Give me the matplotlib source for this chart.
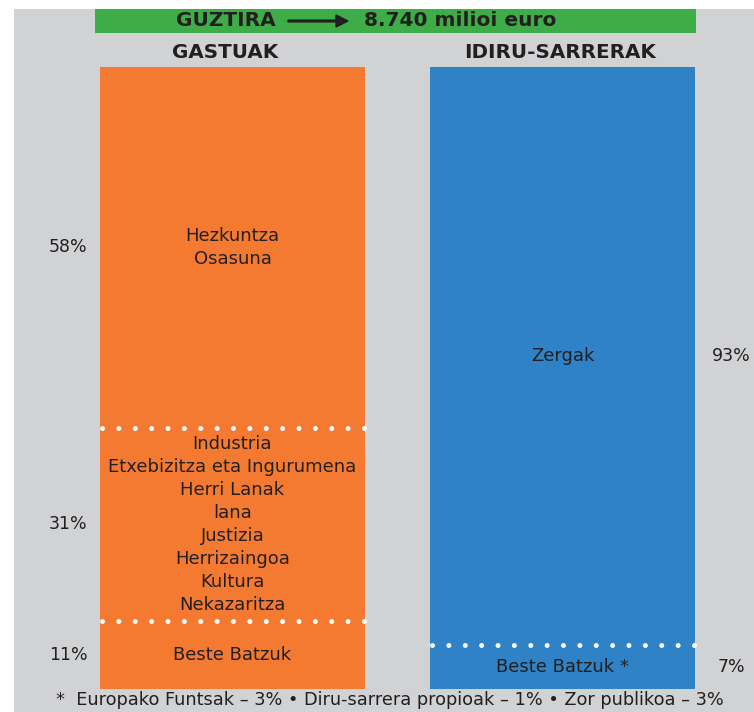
import matplotlib.pyplot as plt
import matplotlib.patches as patches

# Data
columns = ["GASTUAK", "IDIRU-SARRERAK"]
gastuak_pct = [11, 31, 58]
gastuak_labels = [
    "Beste Batzuk",
    "Industria\nEtxebizitza eta Ingurumena\nHerri Lanak\nlana\nJustizia\nHerrizaingoa\nKultura\nNekazaritza",
    "Hezkuntza\nOsasuna",
]
sarrerak_pct = [7, 93]
sarrerak_labels = ["Beste Batzuk *", "Zergak"]
total_label = ["GUZTIRA", "8.740 milioi euro"]
footnote = "*  Europako Funtsak – 3% • Diru-sarrera propioak – 1% • Zor publikoa – 3%"

ORANGE = "#f47a32"
BLUE = "#2f82c6"
GREEN = "#3ead48"
GRAY = "#d1d2d4"
TEXT = "#231f20"

W, H = 754, 712
fig = plt.figure(figsize=(W / 100, H / 100), dpi=100, facecolor="white")
plt.rcParams["font.family"] = ["DejaVu Sans"]
plt.rcParams["lines.scale_dashes"] = False

# gray background panel
fig.patches.append(patches.Rectangle((14 / W, 0), 1, 1 - 9 / H, transform=fig.transFigure,
                                     facecolor=GRAY, edgecolor="none", zorder=-5))

# main axes: x in pixels, y in percent (0 at bar bottom, 100 at bar top)
ax = fig.add_axes([0, 0, 1, 1])
ax.set_zorder(2)
ax.set_facecolor("none")
px = 622 / 100.0
ax.set_xlim(0, W)
ax.set_ylim(-(H - 689) / px, 689 / px)
ax.axis("off")

x_g, x_s, bw = 232.5, 562.5, 265

def stack(x, values, labels, color, pct_x):
    bottom = 0
    for i, (v, lab) in enumerate(zip(values, labels)):
        ax.bar(x, v, bottom=bottom, width=bw, color=color, edgecolor="none", zorder=2)
        mid = bottom + v / 2
        ax.text(x, mid, lab, ha="center", va="center", fontsize=13, color=TEXT,
                linespacing=1.36, zorder=4)
        ax.text(pct_x, mid, f"{v}%", ha="center", va="center", fontsize=12.5, color=TEXT)
        if i > 0:
            x0, x1 = x - bw / 2 + 1.5, x + bw / 2 - 1.5
            gap = (x1 - x0) / 16 * 0.72  # 17 dots, in points
            ax.plot([x0, x1 + 1], [bottom, bottom], color="white", lw=3.6,
                    linestyle=(0, (0.01, gap - 0.01)), dash_capstyle="round", zorder=3)
        bottom += v

stack(x_g, gastuak_pct, gastuak_labels, ORANGE, 68)
stack(x_s, sarrerak_pct, sarrerak_labels, BLUE, 731)

# column headers
ax.text(x_g - 7, 100 + (67 - 52) / px, columns[0], ha="center", va="center",
        fontsize=14.3, fontweight="bold", color=TEXT)
ax.text(x_s - 2, 100 + (67 - 52) / px, columns[1], ha="center", va="center",
        fontsize=14.3, fontweight="bold", color=TEXT)

# green total banner
fig.patches.append(patches.Rectangle((95 / W, 1 - 33 / H), 601 / W, 24 / H, transform=fig.transFigure,
                                     facecolor=GREEN, edgecolor="none", zorder=1))
yb = 1 - 21 / H
fig.text(226 / W, yb, total_label[0], ha="center", va="center", fontsize=14.5,
         fontweight="bold", color=TEXT)
fig.text(460 / W, yb, total_label[1], ha="center", va="center", fontsize=14.5,
         fontweight="bold", color=TEXT)
fig.patches.append(patches.FancyArrow(288 / W, yb, 48 / W, 0, width=0.0025, head_width=0.017,
                                      head_length=12 / W, length_includes_head=False,
                                      transform=fig.transFigure, color=TEXT, zorder=3))

# footnote
fig.text(390 / W, 1 - 700 / H, footnote, ha="center", va="center", fontsize=12.8, color=TEXT)

fig.savefig("out.png", dpi=100, facecolor="white")
